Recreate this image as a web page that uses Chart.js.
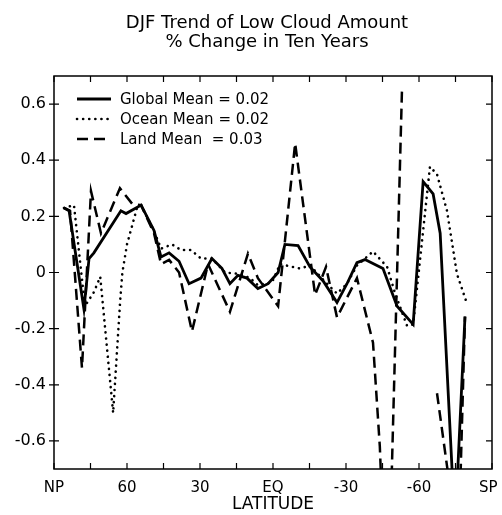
<!DOCTYPE html>
<html><head><meta charset="utf-8">
<script src="https://cdn.jsdelivr.net/npm/chart.js@4.4.1/dist/chart.umd.min.js"></script>
<style>html,body{margin:0;padding:0;background:#fff;}#wrap{width:502px;height:515px;}</style>
</head><body><div id="wrap"><canvas id="c" width="502" height="515"></canvas></div>
<script>
const titleLines = ["DJF Trend of Low Cloud Amount", "% Change in Ten Years"];
const xAxisTitle = "LATITUDE";
const xTickValues = [90, 60, 30, 0, -30, -60, -90];
const xTickLabels = ["NP", "60", "30", "EQ", "-30", "-60", "SP"];
const xMinorTickValues = [75, 45, 15, -15, -45, -75];
const yTickValues = [0.6, 0.4, 0.2, 0, -0.2, -0.4, -0.6];
const yTickLabels = ["0.6", "0.4", "0.2", "0", "-0.2", "-0.4", "-0.6"];
const seriesNames = ["Global Mean = 0.02", "Ocean Mean = 0.02", "Land Mean  = 0.03"];

const globalLat = [85.9, 83.8, 77.7, 75.6, 73.6, 62.5, 60.4, 56.3, 54.2, 48.9, 46.0, 42.7, 38.6, 34.5, 29.6, 25.1, 21.0, 17.7, 14.4, 10.7, 6.2, 2.0, -2.1, -4.9, -10.3, -15.2, -20.6, -26.3, -30.4, -34.5, -37.8, -45.2, -51.0, -57.6, -61.7, -65.8, -68.7, -74.8, -78.9];
const globalVal = [0.23, 0.22, -0.13, 0.05, 0.07, 0.22, 0.21, 0.23, 0.24, 0.15, 0.055, 0.07, 0.04, -0.04, -0.02, 0.05, 0.015, -0.04, -0.01, -0.02, -0.057, -0.04, 0.0, 0.10, 0.096, 0.02, -0.03, -0.107, -0.04, 0.035, 0.046, 0.014, -0.12, -0.185, 0.324, 0.28, 0.14, -0.91, -0.157];

const oceanLat = [85.9, 81.8, 77.3, 73.6, 71.0, 65.7, 62.8, 61.9, 60.0, 55.9, 54.2, 49.0, 46.0, 41.5, 37.8, 33.7, 29.6, 25.1, 19.7, 13.6, 9.4, 6.2, 0.4, -2.9, -11.1, -15.2, -18.5, -22.2, -26.3, -30.4, -34.5, -41.1, -46.9, -50.2, -55.1, -57.6, -64.5, -67.4, -71.5, -75.6, -79.3];
const oceanVal = [0.23, 0.24, -0.12, -0.07, -0.015, -0.50, -0.10, 0.0, 0.10, 0.23, 0.24, 0.15, 0.085, 0.10, 0.08, 0.08, 0.05, 0.05, 0.0, -0.005, -0.02, -0.045, -0.035, 0.03, 0.014, 0.025, -0.005, -0.04, -0.075, -0.04, 0.025, 0.075, 0.02, -0.075, -0.19, -0.185, 0.377, 0.35, 0.22, -0.005, -0.10];

const landLat = [85.9, 83.4, 78.5, 74.8, 70.7, 62.9, 57.9, 54.2, 48.9, 46.0, 42.7, 38.6, 33.3, 26.7, 17.7, 10.3, 6.2, -2.1, -9.1, -17.3, -21.8, -26.3, -34.5, -41.1, -43.9, -47.0, -53.0, -60.0, -67.4, -72.0, -75.2, -78.9];
const landVal = [0.23, 0.22, -0.34, 0.29, 0.14, 0.30, 0.245, 0.24, 0.14, 0.03, 0.045, 0.0, -0.21, 0.03, -0.14, 0.067, -0.02, -0.12, 0.46, -0.08, 0.02, -0.16, -0.02, -0.25, -0.62, -1.3, 0.65, null, -0.43, -0.72, -1.3, -0.157];

const FONT = "'DejaVu Sans', sans-serif";
const toPts = (lat, val) => lat.map((x, i) => ({x: x, y: val[i]}));

const decor = {
  id: 'decor',
  afterDraw(chart) {
    const {ctx, chartArea: {left, right, top, bottom}, scales: {x, y}} = chart;
    ctx.save();
    ctx.strokeStyle = '#000';
    ctx.fillStyle = '#000';
    ctx.lineWidth = 1.5;
    ctx.strokeRect(left, top, right - left, bottom - top);
    ctx.lineWidth = 1.2;
    ctx.beginPath();
    xTickValues.concat(xMinorTickValues).forEach(v => {
      const px = x.getPixelForValue(v);
      ctx.moveTo(px, bottom); ctx.lineTo(px, bottom - 6);
      ctx.moveTo(px, top); ctx.lineTo(px, top + 6);
    });
    yTickValues.forEach(v => {
      const py = y.getPixelForValue(v);
      ctx.moveTo(left - 5, py); ctx.lineTo(left + 5, py);
      ctx.moveTo(right, py); ctx.lineTo(right - 6, py);
    });
    ctx.stroke();

    // title
    ctx.font = "18px " + FONT;
    ctx.textAlign = 'center';
    ctx.textBaseline = 'alphabetic';
    ctx.fillText(titleLines[0], 267, 28);
    ctx.fillText(titleLines[1], 267, 47);

    // legend
    const rows = [99, 119, 139];
    chart.data.datasets.forEach((ds, i) => {
      const yy = rows[i];
      ctx.save();
      ctx.lineWidth = ds.borderWidth;
      ctx.setLineDash(ds.borderDash || []);
      ctx.lineCap = ds.borderCapStyle || 'butt';
      ctx.beginPath();
      ctx.moveTo(77, yy); ctx.lineTo(111, yy);
      ctx.stroke();
      ctx.restore();
      ctx.font = "15px " + FONT;
      ctx.textAlign = 'left';
      ctx.textBaseline = 'middle';
      ctx.fillText(ds.label, 120, yy + 1);
    });
    ctx.restore();
  }
};

new Chart(document.getElementById('c'), {
  type: 'line',
  data: {
    datasets: [
      {label: seriesNames[0], data: toPts(globalLat, globalVal), borderColor: '#000', borderWidth: 2.8, pointRadius: 0, tension: 0, clip: 0},
      {label: seriesNames[1], data: toPts(oceanLat, oceanVal), borderColor: '#000', borderWidth: 2.6, borderDash: [0.1, 6], borderCapStyle: 'round', pointRadius: 0, tension: 0, clip: 0},
      {label: seriesNames[2], data: toPts(landLat, landVal), borderColor: '#000', borderWidth: 2.5, borderDash: [11, 6], pointRadius: 0, tension: 0, spanGaps: false, clip: 0}
    ]
  },
  options: {
    responsive: false,
    animation: false,
    devicePixelRatio: 1,
    layout: {padding: {top: 76, right: 10, left: 0, bottom: 0}},
    plugins: {legend: {display: false}, title: {display: false}, tooltip: {enabled: false}},
    scales: {
      x: {
        type: 'linear', min: -90, max: 90, reverse: true,
        grid: {display: false, drawTicks: false},
        border: {display: false},
        afterBuildTicks: (axis) => { axis.ticks = xTickValues.map(v => ({value: v})); },
        afterFit: (axis) => { axis.height = 46; axis.paddingLeft = 0; axis.paddingRight = 0; },
        ticks: {
          color: '#000', padding: 10, maxRotation: 0, autoSkip: false,
          font: {family: FONT, size: 15},
          callback: (v) => { const i = xTickValues.indexOf(v); const s = i >= 0 ? xTickLabels[i] : ''; return v === -90 ? s + '\u2002' : s; }
        },
        title: {display: true, text: xAxisTitle, color: '#000', font: {family: FONT, size: 17}, padding: {top: 0, bottom: 0}}
      },
      y: {
        type: 'linear', min: -0.7, max: 0.7,
        grid: {display: false, drawTicks: false},
        border: {display: false},
        afterBuildTicks: (axis) => { axis.ticks = yTickValues.map(v => ({value: v})); },
        afterFit: (axis) => { axis.width = 54; axis.paddingTop = 0; axis.paddingBottom = 0; },
        ticks: {
          color: '#000', padding: 8, autoSkip: false,
          font: {family: FONT, size: 16},
          callback: (v) => { const i = yTickValues.findIndex(t => Math.abs(t - v) < 1e-9); return i >= 0 ? yTickLabels[i] : ''; }
        }
      }
    }
  },
  plugins: [decor]
});
</script></body></html>
